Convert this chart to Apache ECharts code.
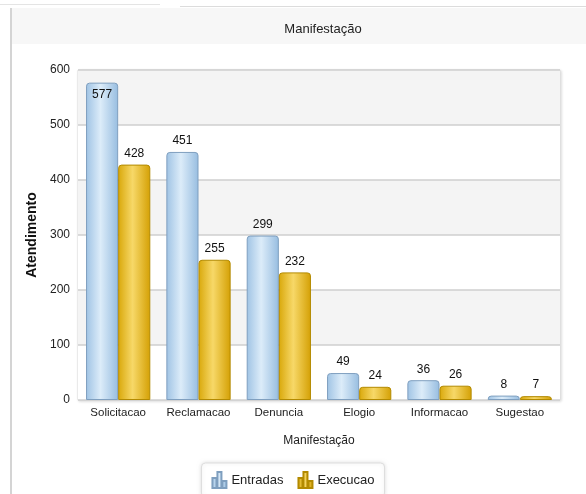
<!DOCTYPE html>
<html>
<head>
<meta charset="utf-8">
<script src="https://cdn.jsdelivr.net/npm/echarts@6/dist/echarts.min.js"></script>
<style>
  html, body { margin: 0; padding: 0; background: #fff; }
  #chart-container { width: 586px; height: 494px; }
</style>
</head>
<body>
<div id="chart-container"></div>
<script>
// dados do gráfico
const categorias = ['Solicitacao', 'Reclamacao', 'Denuncia', 'Elogio', 'Informacao', 'Sugestao'];
const entradas = [577, 451, 299, 49, 36, 8];
const execucao = [428, 255, 232, 24, 26, 7];
const yTicks = [0, 100, 200, 300, 400, 500, 600];

document.addEventListener('DOMContentLoaded', () => {
    const chart = echarts.init(document.getElementById('chart-container'));
    const fonte = 'Liberation Sans, Arial, sans-serif';
    const iconeBarras = 'path://M0,6 L4,6 L4,16 L0,16 Z M5,0 L9,0 L9,16 L5,16 Z M10,9 L14,9 L14,16 L10,16 Z';

    const gradAzul = new echarts.graphic.LinearGradient(0, 0, 1, 0, [
        { offset: 0, color: '#9fc3e4' },
        { offset: 0.45, color: '#dcecf9' },
        { offset: 1, color: '#97bde0' }
    ]);
    const gradOuro = new echarts.graphic.LinearGradient(0, 0, 1, 0, [
        { offset: 0, color: '#d9a80a' },
        { offset: 0.45, color: '#f7d868' },
        { offset: 1, color: '#d4a004' }
    ]);

    // 577 fica dentro da barra, os outros por cima
    const dadosEntradas = entradas.map((v, i) => i === 0
        ? { value: v, label: { position: 'insideTop', distance: 6 } }
        : v);

    const option = {
        animation: false,
        textStyle: { fontFamily: fonte },
        graphic: [
            { type: 'rect', shape: { x: 12, y: 8, width: 574, height: 36 }, style: { fill: '#f7f7f7' }, z: -10 },
            { type: 'rect', shape: { x: 10, y: 8, width: 2, height: 486 }, style: { fill: '#d4d4d4' }, z: -10 },
            { type: 'rect', shape: { x: 180, y: 6, width: 406, height: 1 }, style: { fill: '#dcdcdc' }, z: -10 },
            { type: 'rect', shape: { x: 0, y: 4, width: 160, height: 1 }, style: { fill: '#e4e4e4' }, z: -10 }
        ],
        title: {
            text: 'Manifestação',
            left: 318,
            textAlign: 'center',
            top: 18,
            textStyle: { fontSize: 13, fontWeight: 'normal', color: '#222', fontFamily: fonte }
        },
        legend: {
            data: [
                { name: 'Entradas', icon: iconeBarras },
                { name: 'Execucao', icon: iconeBarras }
            ],
            left: 'center',
            top: 463,
            itemWidth: 14,
            itemHeight: 16,
            itemGap: 14,
            padding: [8, 10, 8, 10],
            backgroundColor: '#fff',
            borderColor: '#dddddd',
            borderWidth: 1,
            borderRadius: 4,
            shadowColor: 'rgba(0,0,0,0.12)',
            shadowBlur: 4,
            textStyle: { fontSize: 13, color: '#222', fontFamily: fonte }
        },
        grid: {
            left: 78,
            right: 26,
            top: 70,
            bottom: 94,
            show: true,
            backgroundColor: '#fff',
            borderColor: '#dedede',
            borderWidth: 1,
            shadowColor: 'rgba(0,0,0,0.15)',
            shadowBlur: 3,
            shadowOffsetX: 1,
            shadowOffsetY: 1
        },
        xAxis: {
            type: 'category',
            data: categorias,
            name: 'Manifestação',
            nameLocation: 'middle',
            nameGap: 35,
            nameTextStyle: { fontSize: 12, color: '#222' },
            axisLine: { show: false },
            axisTick: { show: false },
            axisLabel: { interval: 0, fontSize: 11.5, color: '#222', margin: 7, letterSpacing: 1 }
        },
        yAxis: {
            type: 'value',
            min: yTicks[0],
            max: yTicks[yTicks.length - 1],
            interval: 100,
            name: 'Atendimento',
            nameLocation: 'middle',
            nameGap: 36,
            nameTextStyle: { fontSize: 14, fontWeight: 'bold', color: '#111' },
            axisLine: { show: false },
            axisTick: { show: false },
            axisLabel: { fontSize: 12, color: '#222', margin: 8 },
            splitLine: { lineStyle: { color: '#cfcfcf', width: 1.5 } },
            splitArea: { show: true, areaStyle: { color: ['#ffffff', '#f4f4f4'] } }
        },
        series: [
            {
                name: 'Entradas',
                type: 'bar',
                data: dadosEntradas,
                barGap: '0%',
                barCategoryGap: '20%',
                itemStyle: { color: gradAzul, borderColor: '#7f9fbf', borderWidth: 1, borderRadius: [3, 3, 0, 0] },
                label: { show: true, position: 'top', distance: 5, fontSize: 12, color: '#111' }
            },
            {
                name: 'Execucao',
                type: 'bar',
                data: execucao,
                itemStyle: { color: gradOuro, borderColor: '#b38a00', borderWidth: 1, borderRadius: [3, 3, 0, 0] },
                label: { show: true, position: 'top', distance: 5, fontSize: 12, color: '#111' }
            }
        ]
    };

    chart.setOption(option);
});
</script>
</body>
</html>
